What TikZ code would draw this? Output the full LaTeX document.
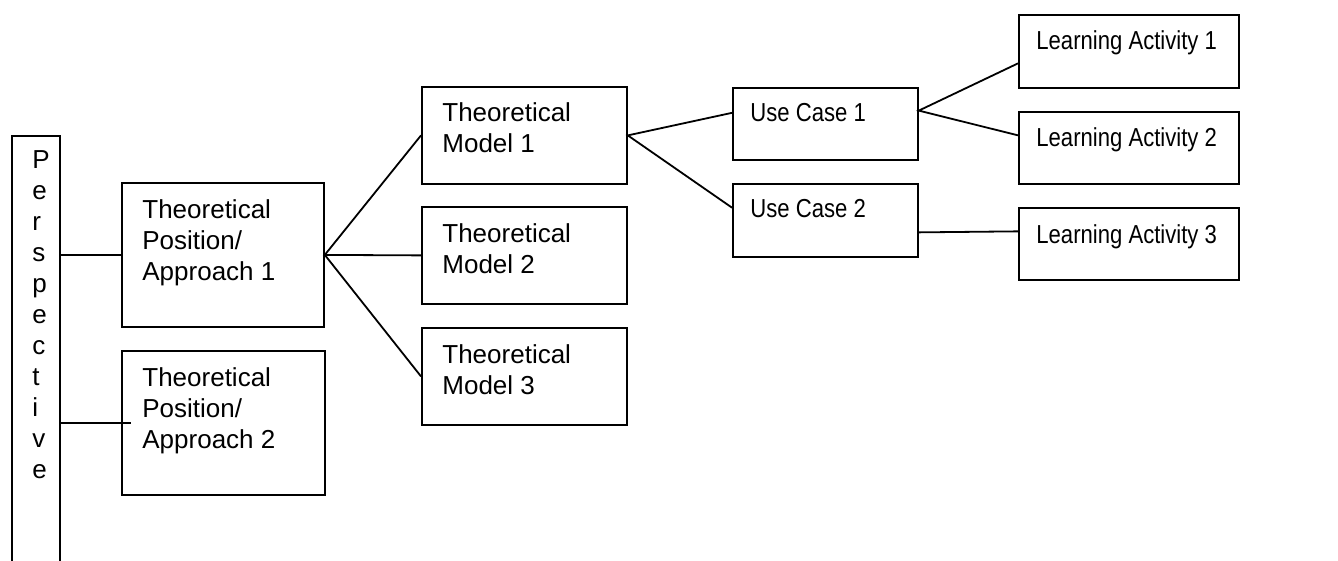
\documentclass[tikz,border=0pt]{standalone}
\usepackage{fontspec}
\setmainfont{Liberation Sans}
\newfontfamily\narrowfont[FakeStretch=0.85]{Liberation Sans}
\usetikzlibrary{calc}
\tikzset{
	box/.style={draw, line width=0.9pt, rectangle, inner sep=0pt, anchor=north west},
	txt/.style={anchor=base west, inner sep=0pt, align=left, font=\fontsize{13}{15.5}\selectfont},
	ntxt/.style={txt, font=\fontsize{13}{15.5}\selectfont\narrowfont},
	link/.style={line width=0.9pt}
}
\begin{document}
\begin{tikzpicture}[x=0.5pt, y=-0.5pt]
		\useasboundingbox (0,0) rectangle (1338,561);
		\clip (0,0) rectangle (1338,561);
		\node[box, minimum width=24pt, minimum height=235pt] (persp) at (11,135) {};
		\node[box, minimum width=101pt, minimum height=72pt] (tpa1) at (121,182) {};
		\node[box, minimum width=101.5pt, minimum height=72pt] (tpa2) at (121,350) {};
		\node[box, minimum width=102.5pt, minimum height=48.5pt] (tm1) at (421,86) {};
		\node[box, minimum width=102.5pt, minimum height=48.5pt] (tm2) at (421,206) {};
		\node[box, minimum width=102.5pt, minimum height=48.5pt] (tm3) at (421,327) {};
		\node[box, minimum width=92.5pt, minimum height=36pt] (uc1) at (732,87) {};
		\node[box, minimum width=92.5pt, minimum height=36.5pt] (uc2) at (732,183) {};
		\node[box, minimum width=110pt, minimum height=36.5pt] (la1) at (1018,14) {};
		\node[box, minimum width=110pt, minimum height=36pt] (la2) at (1018,111) {};
		\node[box, minimum width=110pt, minimum height=36pt] (la3) at (1018,207) {};
		% base of a text is its last line
		\node[txt] (persp-t) at ([shift={(21,343)}]persp.north west) {P\\e\\r\\s\\p\\e\\c\\t\\i\\v\\e};
		\node[txt] (tpa1-t) at ([shift={(21,98)}]tpa1.north west) {Theoretical\\Position/\\Approach 1};
		\node[txt] (tpa2-t) at ([shift={(21,98)}]tpa2.north west) {Theoretical\\Position/\\Approach 2};
		\node[txt] (tm1-t) at ([shift={(21,67)}]tm1.north west) {Theoretical\\Model 1};
		\node[txt] (tm2-t) at ([shift={(21,67)}]tm2.north west) {Theoretical\\Model 2};
		\node[txt] (tm3-t) at ([shift={(21,67)}]tm3.north west) {Theoretical\\Model 3};
		\node[ntxt] (uc1-t) at ([shift={(18,35)}]uc1.north west) {Use Case 1};
		\node[ntxt] (uc2-t) at ([shift={(18,35)}]uc2.north west) {Use Case 2};
		\node[ntxt] (la1-t) at ([shift={(18,36)}]la1.north west) {Learning Activity 1};
		\node[ntxt] (la2-t) at ([shift={(18,36)}]la2.north west) {Learning Activity 2};
		\node[ntxt] (la3-t) at ([shift={(18,36)}]la3.north west) {Learning Activity 3};
		\draw[link] (persp.east |- tpa1.west) -- (tpa1.west);
		\draw[link] (persp.east |- tpa2.west) -- ([xshift=5pt]tpa2.west);
		\draw[link] (tm1.west) -- (tpa1.east) -- (tm2.west) (tpa1.east) -- (tm3.west);
		\draw[link] ($(uc1.north west)!0.35!(uc1.south west)$) -- (tm1.east) -- ($(uc2.north west)!0.33!(uc2.south west)$);
		\draw[link] ($(la1.north west)!0.66!(la1.south west)$) -- ($(uc1.north east)!0.32!(uc1.south east)$) -- ($(la2.north west)!0.33!(la2.south west)$);
		\draw[link] ($(uc2.north east)!0.66!(uc2.south east)$) -- ($(la3.north west)!0.33!(la3.south west)$);
\end{tikzpicture}
\end{document}
